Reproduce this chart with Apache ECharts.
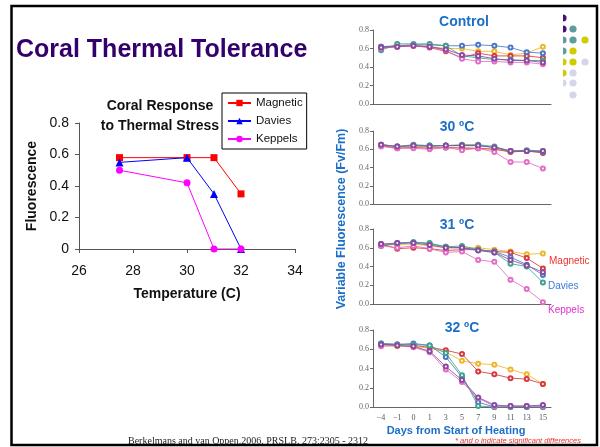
<!DOCTYPE html>
<html><head><meta charset="utf-8">
<script src="https://cdn.jsdelivr.net/npm/echarts@6/dist/echarts.min.js"></script>
<style>html,body{margin:0;padding:0;background:#fff}#c{width:600px;height:447px}</style>
</head><body><div id="c"></div>
<script>
// ---- Left chart data ----
const temperatures = [27.5, 30, 31, 32];
const magneticFluor = [0.58, 0.58, 0.58, 0.35];
const daviesFluor = [0.55, 0.58, 0.35, 0];
const keppelsFluor = [0.50, 0.42, 0, 0];
const tempTicks = [26, 28, 30, 32, 34];

// ---- Right panels data (days from start of heating) ----
const days = ['\u22124', '\u22121', '0', '1', '3', '5', '7', '9', '11', '13', '15'];
const panelTitles = ['Control', '30 \u00baC', '31 \u00baC', '32 \u00baC'];
// order of lines: yellow, red, blue, teal, pink, purple
const controlLines = [
  [0.60, 0.63, 0.63, 0.62, 0.60, 0.60, 0.57, 0.57, 0.53, 0.55, 0.62],
  [0.62, 0.62, 0.63, 0.61, 0.57, 0.50, 0.55, 0.52, 0.52, 0.52, 0.50],
  [0.62, 0.63, 0.64, 0.64, 0.63, 0.63, 0.64, 0.63, 0.61, 0.56, 0.55],
  [0.58, 0.65, 0.65, 0.65, 0.63, 0.52, 0.50, 0.48, 0.48, 0.47, 0.47],
  [0.60, 0.62, 0.63, 0.62, 0.58, 0.49, 0.46, 0.46, 0.45, 0.45, 0.43],
  [0.61, 0.62, 0.63, 0.62, 0.59, 0.53, 0.52, 0.49, 0.47, 0.47, 0.45]
];
const c30Lines = [
  [0.64, 0.62, 0.63, 0.62, 0.62, 0.62, 0.61, 0.60, 0.58, 0.58, 0.57],
  [0.64, 0.61, 0.62, 0.61, 0.62, 0.61, 0.61, 0.60, 0.57, 0.58, 0.56],
  [0.65, 0.63, 0.64, 0.64, 0.64, 0.64, 0.64, 0.62, 0.58, 0.58, 0.57],
  [0.65, 0.63, 0.65, 0.64, 0.64, 0.65, 0.65, 0.63, 0.58, 0.59, 0.58],
  [0.63, 0.61, 0.61, 0.60, 0.62, 0.59, 0.61, 0.57, 0.46, 0.46, 0.39],
  [0.65, 0.63, 0.64, 0.63, 0.64, 0.64, 0.64, 0.62, 0.58, 0.58, 0.58]
];
const c31Lines = [
  [0.63, 0.63, 0.64, 0.62, 0.60, 0.60, 0.60, 0.58, 0.56, 0.53, 0.54],
  [0.64, 0.59, 0.60, 0.59, 0.57, 0.58, 0.58, 0.56, 0.55, 0.49, 0.38],
  [0.62, 0.65, 0.66, 0.64, 0.61, 0.60, 0.58, 0.56, 0.50, 0.42, 0.31],
  [0.63, 0.64, 0.66, 0.65, 0.61, 0.62, 0.58, 0.55, 0.43, 0.40, 0.23],
  [0.62, 0.60, 0.62, 0.59, 0.55, 0.56, 0.47, 0.45, 0.26, 0.16, 0.02],
  [0.64, 0.65, 0.65, 0.63, 0.60, 0.60, 0.57, 0.55, 0.47, 0.41, 0.34]
];
const c32Lines = [
  [0.64, 0.63, 0.63, 0.61, 0.57, 0.48, 0.45, 0.44, 0.39, 0.34, 0.24],
  [0.65, 0.65, 0.64, 0.62, 0.59, 0.55, 0.37, 0.34, 0.30, 0.29, 0.24],
  [0.66, 0.65, 0.66, 0.64, 0.52, 0.31, 0.05, 0.00, 0.00, 0.00, 0.00],
  [0.66, 0.65, 0.65, 0.64, 0.56, 0.33, 0.01, 0.00, 0.00, 0.00, 0.00],
  [0.63, 0.64, 0.62, 0.57, 0.39, 0.26, 0.09, 0.01, 0.01, 0.01, 0.01],
  [0.65, 0.64, 0.63, 0.58, 0.42, 0.28, 0.10, 0.02, 0.01, 0.01, 0.02]
];
const panelLines = [controlLines, c30Lines, c31Lines, c32Lines];

// ---- styles ----
const lineColors = ['#eeb62c', '#d8383f', '#4a78c8', '#3ea38c', '#e46cc6', '#8a4aa0'];
const panelTops = [30, 131, 229, 330];
const panelHeights = [74, 73, 75, 77];
const titleY = [22, 127, 225, 328];
const SANS = 'Liberation Sans, Arial, sans-serif';
const SERIF = 'Liberation Serif, Times New Roman, serif';
const BLUE = '#1c6fc8';

const grids = [{left: 79, top: 123, width: 216, height: 126}];
const xAxes = [{
  type: 'value', gridIndex: 0, min: 26, max: 34, interval: 2,
  name: 'Temperature (C)', nameLocation: 'middle', nameGap: 38,
  nameTextStyle: {fontFamily: SANS, fontWeight: 'bold', fontSize: 14, color: '#111'},
  axisLine: {lineStyle: {color: '#555'}}, axisTick: {length: 4, lineStyle: {color: '#555'}},
  splitLine: {show: false},
  axisLabel: {fontFamily: SANS, fontSize: 14, color: '#111', margin: 15}
}];
const yAxes = [{
  type: 'value', gridIndex: 0, min: 0, max: 0.8, interval: 0.2,
  name: 'Fluorescence', nameLocation: 'middle', nameGap: 40, nameRotate: 90,
  nameTextStyle: {fontFamily: SANS, fontWeight: 'bold', fontSize: 14, color: '#111'},
  axisLine: {show: true, lineStyle: {color: '#555'}}, axisTick: {show: true, length: 4, lineStyle: {color: '#555'}},
  splitLine: {show: false},
  axisLabel: {fontFamily: SANS, fontSize: 14, color: '#111', margin: 10, formatter: v => (v === 0 ? '0' : v.toFixed(1))}
}];
const series = [
  {name: 'Magnetic', type: 'line', xAxisIndex: 0, yAxisIndex: 0, data: temperatures.map((t, i) => [t, magneticFluor[i]]),
   symbol: 'rect', symbolSize: 7, color: '#ff0000', lineStyle: {width: 1}},
  {name: 'Davies', type: 'line', xAxisIndex: 0, yAxisIndex: 0, data: temperatures.map((t, i) => [t, daviesFluor[i]]),
   symbol: 'triangle', symbolSize: 8, color: '#0000ff', lineStyle: {width: 1}},
  {name: 'Keppels', type: 'line', xAxisIndex: 0, yAxisIndex: 0, data: temperatures.map((t, i) => [t, keppelsFluor[i]]),
   symbol: 'circle', symbolSize: 7, color: '#ff00ff', lineStyle: {width: 1}}
];

for (let p = 0; p < 4; p++) {
  const gi = p + 1;
  grids.push({left: 373, top: panelTops[p], width: 178, height: panelHeights[p]});
  xAxes.push({
    type: 'category', gridIndex: gi, data: days, boundaryGap: true,
    axisLine: {lineStyle: {color: '#666'}},
    axisTick: {alignWithLabel: true, length: 3, lineStyle: {color: '#666'}},
    axisLabel: {show: p === 3, fontFamily: SERIF, fontSize: 8, color: '#555', margin: 7}
  });
  yAxes.push({
    type: 'value', gridIndex: gi, min: 0, max: 0.8, interval: 0.2,
    axisLine: {show: true, lineStyle: {color: '#666'}},
    axisTick: {show: true, length: 3, lineStyle: {color: '#666'}},
    splitLine: {show: false},
    axisLabel: {fontFamily: SERIF, fontSize: 8, color: '#666', margin: 4, formatter: v => v.toFixed(1)}
  });
  panelLines[p].forEach((vals, k) => {
    series.push({
      name: 'p' + p + 's' + k, type: 'line', xAxisIndex: gi, yAxisIndex: gi, data: vals,
      symbol: 'emptyCircle', symbolSize: 4, color: lineColors[k],
      lineStyle: {width: 1, opacity: 0.85}, itemStyle: {borderWidth: 1}
    });
  });
}

// decorative dots (slide template)
const dotDefs = [
  [563, 18, '#4b0d7a'], [563, 29, '#4b0d7a'], [563, 40, '#5f9c9e'], [563, 51, '#5f9c9e'],
  [563, 62, '#cfcc00'], [563, 73, '#cfcc00'], [563, 83, '#d6d6ea'],
  [573, 29, '#5f9c9e'], [573, 40, '#5f9c9e'], [573, 51, '#cfcc00'], [573, 62, '#cfcc00'],
  [573, 73, '#d6d6ea'], [573, 83, '#d6d6ea'], [573, 95, '#d6d6ea'],
  [585, 40, '#cfcc00'], [585, 62, '#d6d6ea']
];
const graphics = dotDefs.map(d => ({type: 'circle', z: 1, shape: {cx: d[0], cy: d[1], r: 3.6}, style: {fill: d[2]}}));
graphics.push({type: 'rect', z: 2, shape: {x: 552, y: 9, width: 11, height: 100}, style: {fill: '#fff'}});
graphics.push({type: 'rect', z: 3, shape: {x: 11.5, y: 6, width: 585.5, height: 439}, style: {fill: 'none', stroke: '#000', lineWidth: 2.5}});

function txt(text, x, y, font, fill, align, extra) {
  return Object.assign({type: 'text', z: 4, x: x, y: y,
    style: {text: text, font: font, fill: fill, align: align || 'center', verticalAlign: 'middle'}}, extra || {});
}
graphics.push(txt('Coral Thermal Tolerance', 16, 50, 'bold 25px ' + SANS, '#34006b', 'left'));
graphics.push(txt('Coral Response', 160, 106, 'bold 14px ' + SANS, '#111'));
graphics.push(txt('to Thermal Stress', 160, 126, 'bold 14px ' + SANS, '#111'));
for (let p = 0; p < 4; p++) {
  graphics.push(txt(panelTitles[p], p === 0 ? 464 : (p === 3 ? 462 : 457), titleY[p], 'bold 14px ' + SANS, BLUE));
}
graphics.push(txt('Variable Fluorescence (Fv/Fm)', 342, 219, 'bold 12.5px ' + SANS, BLUE, 'center', {rotation: Math.PI / 2}));
graphics.push(txt('Days from Start of Heating', 456, 431, 'bold 11px ' + SANS, BLUE));
graphics.push(txt('* and o indicate significant differences', 518, 441, 'italic 7.5px ' + SANS, '#f03030'));
graphics.push(txt('Berkelmans and van Oppen.2006. PRSLB. 273:2305 - 2312', 248, 441, '10px ' + SERIF, '#222'));
graphics.push(txt('Magnetic', 549, 261, '10px ' + SANS, '#f03030', 'left'));
graphics.push(txt('Davies', 548, 286, '10px ' + SANS, '#3a7ad8', 'left'));
graphics.push(txt('Keppels', 548, 310, '10px ' + SANS, '#e030d0', 'left'));

const chart = echarts.init(document.getElementById('c'), null, {renderer: 'canvas'});
chart.setOption({
  animation: false,
  backgroundColor: '#fff',
  grid: grids,
  xAxis: xAxes,
  yAxis: yAxes,
  legend: {
    data: ['Magnetic', 'Davies', 'Keppels'], orient: 'vertical', left: 222, top: 93,
    borderColor: '#000', borderWidth: 1, padding: [4, 4, 4, 5], itemGap: 6,
    itemWidth: 23, itemHeight: 8, backgroundColor: '#fff',
    textStyle: {fontFamily: SANS, fontSize: 11.5, color: '#111'}
  },
  series: series,
  graphic: {elements: graphics}
});
</script></body></html>
